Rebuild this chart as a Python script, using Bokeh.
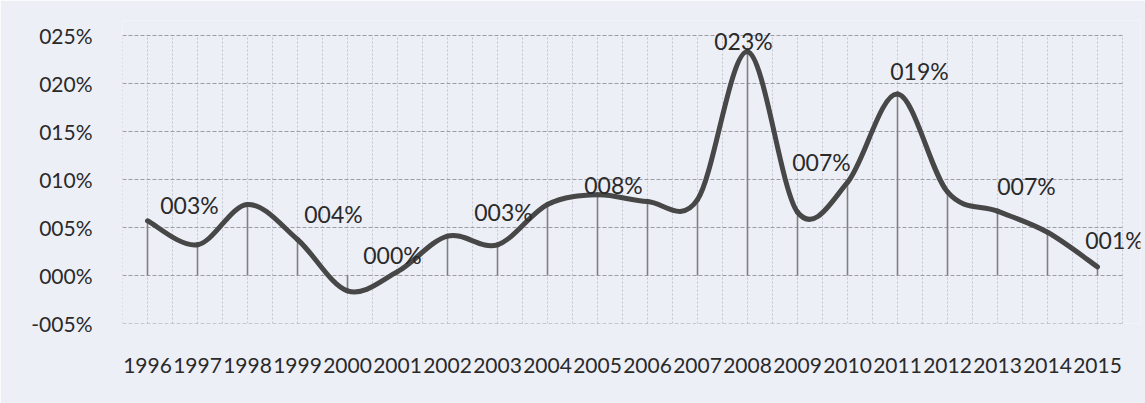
from bokeh.plotting import figure
from bokeh.models import ColumnDataSource, FixedTicker, Range1d
from bokeh.core.properties import value
from bokeh.embed import file_html
from bokeh.resources import INLINE

years = ["1996", "1997", "1998", "1999", "2000", "2001", "2002", "2003", "2004", "2005",
         "2006", "2007", "2008", "2009", "2010", "2011", "2012", "2013", "2014", "2015"]
values = [0.057, 0.032, 0.074, 0.0375, -0.016, 0.004, 0.041, 0.032, 0.074, 0.084,
          0.077, 0.079, 0.233, 0.066, 0.097, 0.189, 0.087, 0.067, 0.045, 0.009]
label_years = ["1997", "1999", "2001", "2003", "2005", "2008", "2009", "2011", "2013", "2015"]
label_texts = ["003%", "004%", "000%", "003%", "008%", "023%", "007%", "019%", "007%", "001%"]
y_ticks = [-0.05, 0.0, 0.05, 0.10, 0.15, 0.20, 0.25]
y_tick_labels = ["-005%", "000%", "005%", "010%", "015%", "020%", "025%"]

# label offsets in screen pixels (style only; negative dy = up)
lab_dx = [-8, 36, -5, 6, 16, -4, 24, 22, 29, 17]
lab_dy = [-40, -26, -17, -33, -10, -11, -50, -23, -25, -27]

FONT = "Lato"
TXT = "#2a2a2a"
BG = "#edeff7"

xs = list(range(len(years)))
x_lo, x_hi = -0.5, len(years) - 0.5
y_lo, y_hi = y_ticks[0], y_ticks[-1]

# frame extended beyond the plot area (right / top) so labels are not clipped
p = figure(width=1145, height=403, output_backend="svg", toolbar_location=None,
           x_range=Range1d(x_lo, x_hi + 0.36), y_range=Range1d(y_lo, y_hi + 0.015625),
           min_border_left=122, min_border_right=5, min_border_top=20, min_border_bottom=80)
p.background_fill_color = BG
p.border_fill_color = BG
p.outline_line_color = None
p.xgrid.visible = False
p.ygrid.visible = False

# axes
p.xaxis.ticker = FixedTicker(ticks=xs)
p.xaxis.major_label_overrides = {i: y for i, y in enumerate(years)}
p.yaxis.ticker = FixedTicker(ticks=y_ticks)
p.yaxis.major_label_overrides = {t: l for t, l in zip(y_ticks, y_tick_labels)}
for ax in (p.xaxis[0], p.yaxis[0]):
    ax.axis_line_color = None
    ax.major_tick_line_color = None
    ax.minor_tick_line_color = None
    ax.major_label_text_font = FONT
    ax.major_label_text_font_size = "21px"
    ax.major_label_text_color = TXT
p.xaxis.major_label_standoff = 28
p.yaxis.major_label_standoff = 24

# grid lines limited to the plot area
vx = [x_lo + 0.5 * i for i in range(2 * len(years) + 1)]
p.segment(x0=vx, y0=[y_lo] * len(vx), x1=vx, y1=[y_hi] * len(vx),
          line_color="#c4c6d0", line_dash="2 2", line_width=1)
p.segment(x0=[x_lo] * len(y_ticks), y0=y_ticks, x1=[x_hi] * len(y_ticks), y1=y_ticks,
          line_color="#9c9ca4", line_dash="4 2", line_width=1)

# drop lines
p.segment(x0=xs, y0=[0] * len(xs), x1=xs, y1=values, line_color="#808080", line_width=1.6)

# smoothed line (Catmull-Rom style bezier through the data points)
n = len(xs)
x0s, y0s, x1s, y1s, cx0, cy0, cx1, cy1 = [], [], [], [], [], [], [], []
for i in range(n - 1):
    pxm, pym = (xs[i - 1], values[i - 1]) if i > 0 else (xs[i], values[i])
    px0, py0 = xs[i], values[i]
    px1, py1 = xs[i + 1], values[i + 1]
    pxp, pyp = (xs[i + 2], values[i + 2]) if i + 2 < n else (xs[i + 1], values[i + 1])
    x0s.append(px0); y0s.append(py0); x1s.append(px1); y1s.append(py1)
    cx0.append(px0 + (px1 - pxm) / 6); cy0.append(py0 + (py1 - pym) / 6)
    cx1.append(px1 - (pxp - px0) / 6); cy1.append(py1 - (pyp - py0) / 6)
p.bezier(x0=x0s, y0=y0s, x1=x1s, y1=y1s, cx0=cx0, cy0=cy0, cx1=cx1, cy1=cy1,
         line_color="#474747", line_width=5, line_cap="round")

# data labels
lx = [years.index(y) for y in label_years]
ly = [values[years.index(y)] for y in label_years]
src = ColumnDataSource(dict(x=lx, y=ly, t=label_texts, dx=lab_dx, dy=lab_dy))
p.text(x="x", y="y", text="t", x_offset="dx", y_offset="dy", source=src,
       text_align="center", text_baseline="middle", text_font=value(FONT),
       text_font_size="23px", text_color=TXT)

open("out.html", "w").write(file_html(p, INLINE))
